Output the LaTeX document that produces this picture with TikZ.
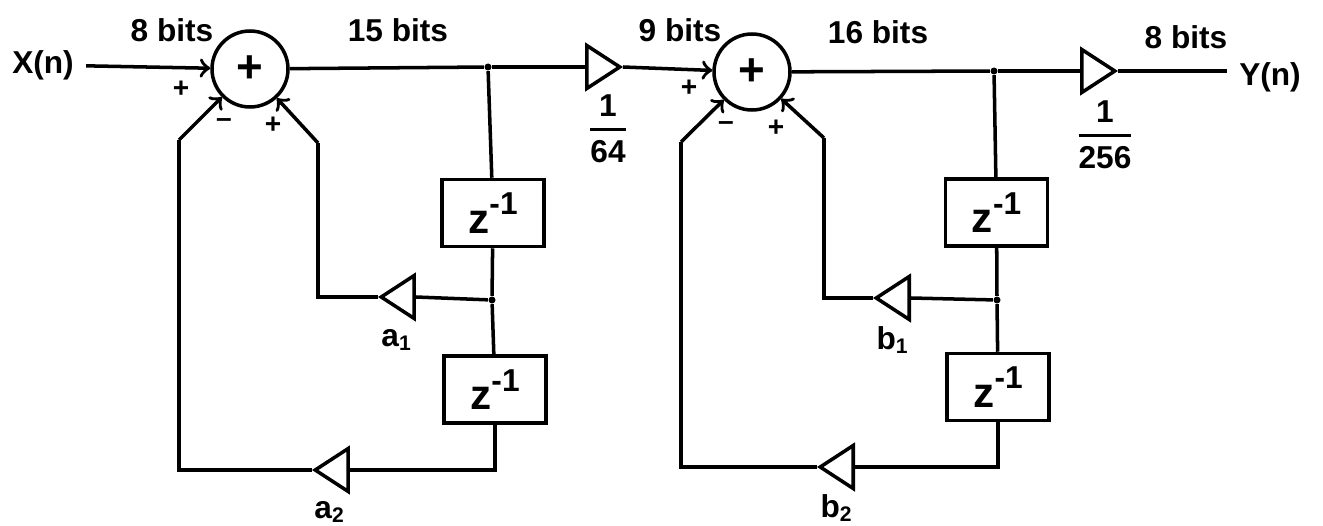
\documentclass[tikz,border=0pt]{standalone}
\usepackage{amsmath}
\usepackage{fontspec}
\setmainfont{Liberation Sans}
\usetikzlibrary{shapes.geometric}
\newcommand{\zinv}{{\fontsize{12}{14}\selectfont z}\raisebox{1.1ex}{-1}}
\newcommand{\gainfrac}[2]{$\genfrac{}{}{0.9pt}{0}{\mbox{#1}}{\mbox{#2}}$}
\tikzset{
    every node/.style={font=\fontsize{9}{11}\selectfont\bfseries},
    sumnode/.style={circle, draw, line width=1pt, minimum size=0.76cm, inner sep=0pt, font=\fontsize{13}{14}\selectfont\bfseries},
    delaybox/.style={rectangle, draw, line width=1pt, minimum width=1.02cm, minimum height=0.67cm, inner sep=0pt},
    gain/.style={isosceles triangle, isosceles triangle apex angle=66, isosceles triangle stretches, draw, line width=1pt, minimum height=0.33cm, minimum width=0.43cm, inner sep=0pt, anchor=apex},
    gainright/.style={gain, shape border rotate=0},
    gainleft/.style={gain, shape border rotate=180},
    junction/.style={circle, fill, inner sep=0pt, minimum size=0.07cm},
    sign/.style={font=\fontsize{8}{9}\selectfont\bfseries, inner sep=0pt},
    wire/.style={line width=1pt}
}
\begin{document}
\begin{tikzpicture}
    \useasboundingbox (0,0) rectangle (13.23,5.25);

    % Nodes
    \node (xin) at (0.43,4.60) {X(n)};
    \node[sumnode] (add1) at (2.50,4.56) {+};
    \node[junction] (j1) at (4.88,4.58) {};
    \node[delaybox] (z1) at (4.93,3.12) {\zinv};
    \node[junction] (j2) at (4.92,2.25) {};
    \node[delaybox] (z2) at (4.95,1.355) {\zinv};
    \coordinate (c1) at (3.18,3.82);
    \coordinate (c2) at (1.79,3.85);
    \node[gainright] (g1) at (6.23,4.58) {};
    \node[gainleft] (a1) at (3.78,2.28) {};
    \node[gainleft] (a2) at (3.12,0.55) {};

    \node[sumnode] (add2) at (7.52,4.53) {+};
    \node[junction] (j3) at (9.94,4.54) {};
    \node[delaybox] (z3) at (9.965,3.125) {\zinv};
    \node[junction] (j4) at (9.97,2.25) {};
    \node[delaybox] (z4) at (9.98,1.38) {\zinv};
    \coordinate (c3) at (8.24,3.87);
    \coordinate (c4) at (6.81,3.83);
    \node[gainright] (g2) at (11.18,4.54) {};
    \node[gainleft] (b1) at (8.73,2.27) {};
    \node[gainleft] (b2) at (8.17,0.58) {};
    \node (yout) at (12.70,4.48) {Y(n)};

    % Labels
    \node (l1) at (1.72,4.95) {8 bits};
    \node (l2) at (3.98,4.95) {15 bits};
    \node (l3) at (6.80,4.95) {9 bits};
    \node (l4) at (8.78,4.93) {16 bits};
    \node (l5) at (11.86,4.88) {8 bits};
    \node (f1) at (6.08,3.96) {\gainfrac{1}{64}};
    \node (f2) at (11.05,3.90) {\gainfrac{1}{256}};
    \node (la1) at (3.97,1.85) {a\textsubscript{1}};
    \node (la2) at (3.30,0.13) {a\textsubscript{2}};
    \node (lb1) at (8.93,1.85) {b\textsubscript{1}};
    \node (lb2) at (8.37,0.17) {b\textsubscript{2}};
    \node[sign] (s1) at (1.81,4.36) {+};
    \node[sign] (s2) at (2.24,4.02) {--};
    \node[sign] (s3) at (2.73,4.00) {+};
    \node[sign] (s4) at (6.89,4.37) {+};
    \node[sign] (s5) at (7.26,3.99) {--};
    \node[sign] (s6) at (7.76,3.97) {+};

    % Edges
    \draw[wire, ->] (xin) -- (add1);
    \draw[wire] (add1) -- (j1);
    \draw[wire] (j1) -- (g1.lower side);
    \draw[wire] (j1) -- (z1);
    \draw[wire] (z1) -- (j2);
    \draw[wire] (j2) -- (z2);
    \draw[wire] (j2) -- (a1.lower side);
    \draw[wire] (a1.apex) -| (c1);
    \draw[wire, ->] (c1) -- (add1);
    \draw[wire] (z2.south) |- (a2.lower side);
    \draw[wire] (a2.apex) -| (c2);
    \draw[wire, ->] (c2) -- (add1);
    \draw[wire, ->] (g1.apex) -- (add2);

    \draw[wire] (add2) -- (j3);
    \draw[wire] (j3) -- (g2.lower side);
    \draw[wire] (j3) -- (z3);
    \draw[wire] (z3) -- (j4);
    \draw[wire] (j4) -- (z4);
    \draw[wire] (j4) -- (b1.lower side);
    \draw[wire] (b1.apex) -| (c3);
    \draw[wire, ->] (c3) -- (add2);
    \draw[wire] (z4.south) |- (b2.lower side);
    \draw[wire] (b2.apex) -| (c4);
    \draw[wire, ->] (c4) -- (add2);
    \draw[wire] (g2.apex) -- (yout.west |- g2.apex);
\end{tikzpicture}
\end{document}
